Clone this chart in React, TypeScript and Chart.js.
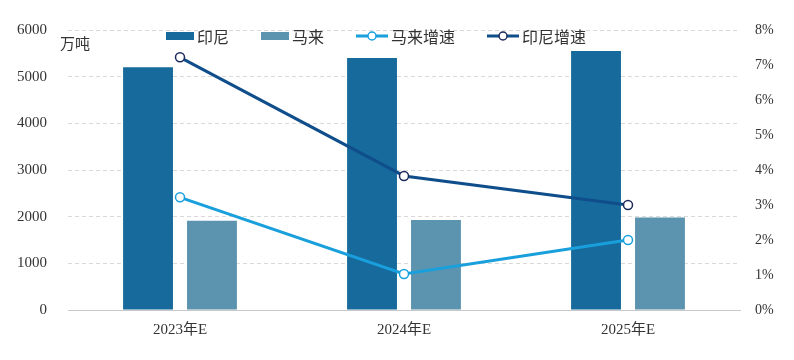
import React, { useEffect, useRef } from "react";
import { Chart, registerables } from "chart.js";

Chart.register(...registerables);

const categories = ["2023年E", "2024年E", "2025年E"];
const indonesiaOutput = [5200, 5400, 5550];
const malaysiaOutput = [1910, 1930, 1980];
const malaysiaGrowth = [3.22, 1.03, 2.0];
const indonesiaGrowth = [7.22, 3.83, 3.0];
const leftTicks = [0, 1000, 2000, 3000, 4000, 5000, 6000];
const rightTicks = [0, 1, 2, 3, 4, 5, 6, 7, 8];
const seriesNames = ["印尼", "马来", "马来增速", "印尼增速"];
const unitLabel = "万吨";

const C_ID_BAR = "#166a9c";
const C_MY_BAR = "#5c93ae";
const C_MY_LINE = "#19a0dc";
const C_ID_LINE = "#0f4e8b";
const C_ID_MARK = "#1b2a5a";

const tickFont = { family: "'Liberation Serif', 'Noto Sans CJK SC', serif", size: 15 };

export default function App() {
  const ref = useRef<HTMLCanvasElement | null>(null);

  useEffect(() => {
    document.body.style.margin = "0";
    const ctx = ref.current!;
    const chart = new Chart(ctx, {
      type: "bar",
      data: {
        labels: categories,
        datasets: [
          {
            type: "line",
            label: seriesNames[3],
            data: indonesiaGrowth,
            yAxisID: "y2",
            borderColor: C_ID_LINE,
            borderWidth: 3,
            pointRadius: 4.5,
            pointBackgroundColor: "#ffffff",
            pointBorderColor: C_ID_MARK,
            pointBorderWidth: 1.5,
            order: 0,
          } as any,
          {
            type: "line",
            label: seriesNames[2],
            data: malaysiaGrowth,
            yAxisID: "y2",
            borderColor: C_MY_LINE,
            borderWidth: 3,
            pointRadius: 4.5,
            pointBackgroundColor: "#ffffff",
            pointBorderColor: C_MY_LINE,
            pointBorderWidth: 1.5,
            order: 1,
          } as any,
          {
            type: "bar",
            label: seriesNames[0],
            data: indonesiaOutput,
            yAxisID: "y",
            backgroundColor: C_ID_BAR,
            categoryPercentage: 0.571,
            barPercentage: 0.78,
            order: 2,
          },
          {
            type: "bar",
            label: seriesNames[1],
            data: malaysiaOutput,
            yAxisID: "y",
            backgroundColor: C_MY_BAR,
            categoryPercentage: 0.571,
            barPercentage: 0.78,
            order: 3,
          },
        ],
      },
      options: {
        animation: false,
        responsive: false,
        devicePixelRatio: 1,
        layout: { padding: { top: 22, left: 0, right: 0, bottom: 0 } },
        plugins: { legend: { display: false }, tooltip: { enabled: false } },
        scales: {
          x: {
            grid: { display: false, drawTicks: false },
            border: { display: true, color: "#c8c8c8", width: 1 },
            ticks: { font: tickFont, color: "#333", padding: 11 },
            afterFit: (s: any) => {
              s.height = 50;
            },
          },
          y: {
            position: "left",
            min: 0,
            max: 6000,
            afterBuildTicks: (s: any) => {
              s.ticks = leftTicks.map((v) => ({ value: v }));
            },
            grid: {
              drawTicks: false,
              color: (c: any) => (c.tick && c.tick.value === 0 ? "rgba(0,0,0,0)" : "#d9d9d9"),
              lineWidth: 1,
            },
            border: { display: false, dash: [4, 3] },
            ticks: { font: tickFont, color: "#333", padding: 21, callback: (v: any) => String(v) },
            afterFit: (s: any) => {
              s.width = 68;
            },
          },
          y2: {
            position: "right",
            min: 0,
            max: 8,
            afterBuildTicks: (s: any) => {
              s.ticks = rightTicks.map((v) => ({ value: v }));
            },
            grid: { display: false, drawTicks: false },
            border: { display: false },
            ticks: {
              font: { ...tickFont, size: 14 },
              color: "#333",
              padding: 15,
              callback: (v: any) => `${v}%`,
            },
            afterFit: (s: any) => {
              s.width = 54;
            },
          },
        },
      },
    });
    return () => chart.destroy();
  }, []);

  const legendFont = "'Noto Sans CJK SC', sans-serif";
  const markers = [
    <div key="m0" style={{ width: 28, height: 8, background: C_ID_BAR }} />,
    <div key="m1" style={{ width: 28, height: 8, background: C_MY_BAR }} />,
    <LineMarker key="m2" color={C_MY_LINE} mark={C_MY_LINE} />,
    <LineMarker key="m3" color={C_ID_LINE} mark={C_ID_MARK} />,
  ];

  return (
    <div style={{ position: "relative", width: 794, height: 360 }}>
      <canvas ref={ref} width={794} height={360} style={{ display: "block" }} />
      <div
        style={{
          position: "absolute",
          left: 166,
          top: 27,
          height: 18,
          display: "flex",
          alignItems: "center",
          gap: 32,
          fontFamily: legendFont,
          fontSize: 16,
          color: "#333",
          whiteSpace: "nowrap",
        }}
      >
        {seriesNames.map((n, i) => (
          <div key={n} style={{ display: "flex", alignItems: "center", gap: 3 }}>
            {markers[i]}
            <span style={{ lineHeight: "18px" }}>{n}</span>
          </div>
        ))}
      </div>
      <div
        style={{
          position: "absolute",
          left: 60,
          top: 34,
          fontFamily: "'Noto Sans CJK SC', sans-serif",
          fontSize: 15,
          lineHeight: "18px",
          color: "#333",
        }}
      >
        {unitLabel}
      </div>
    </div>
  );
}

function LineMarker({ color, mark }: { color: string; mark: string }) {
  return (
    <svg width={32} height={12} style={{ display: "block" }}>
      <line x1={0} y1={6} x2={32} y2={6} stroke={color} strokeWidth={3} />
      <circle cx={16} cy={6} r={4} fill="#fff" stroke={mark} strokeWidth={1.5} />
    </svg>
  );
}
